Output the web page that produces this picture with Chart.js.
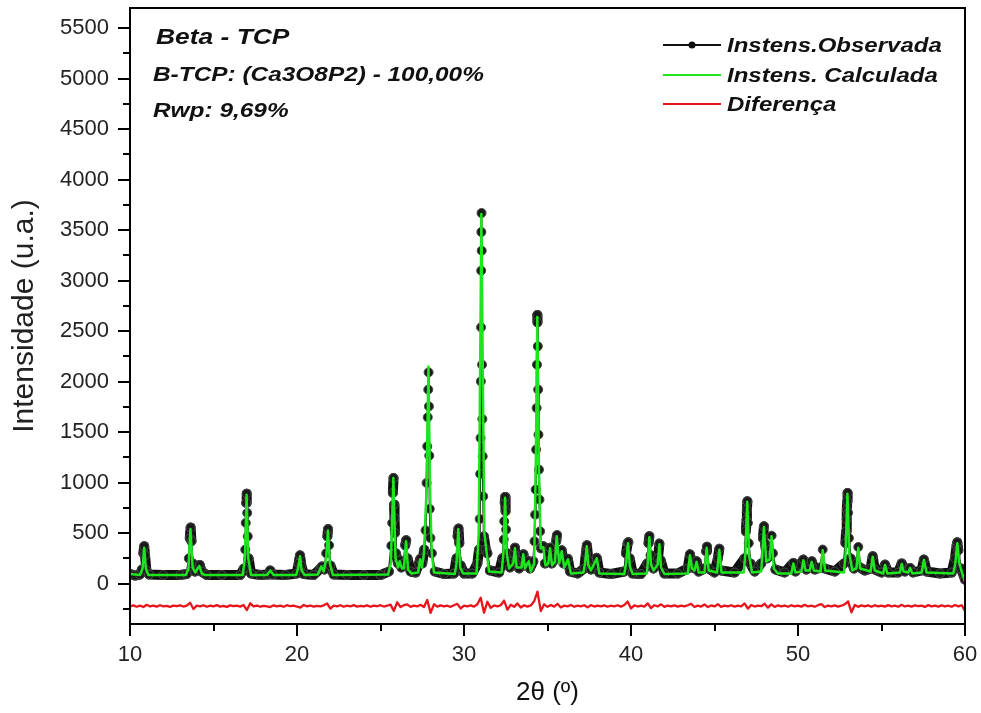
<!DOCTYPE html>
<html lang="pt">
<head>
<meta charset="UTF-8">
<title>Beta - TCP</title>
<script src="https://cdn.jsdelivr.net/npm/chart.js"></script>
<style>
  html, body { margin: 0; padding: 0; background: #fff; }
  #wrap { width: 981px; height: 713px; }
</style>
</head>
<body>
<div id="wrap"><canvas id="xrd" width="981" height="713"></canvas></div>
<script>
// axis ticks
const yTickValues = [0, 500, 1000, 1500, 2000, 2500, 3000, 3500, 4000, 4500, 5000, 5500];
const yMinorTicks = [-250, 250, 750, 1250, 1750, 2250, 2750, 3250, 3750, 4250, 4750, 5250];
const xTickValues = [10, 20, 30, 40, 50, 60];
const xMinorTicks = [15, 25, 35, 45, 55];

const seriesNames = ['Instens.Observada', 'Instens. Calculada', 'Diferença'];
const noteLines = ['Beta - TCP', 'B-TCP: (Ca3O8P2) - 100,00%', 'Rwp: 9,69%'];

// [2theta, counts]
const observed = [
  [10.0, 95], [10.3, 80], [10.6, 90],
  [10.72, 140], [10.80, 300], [10.85, 370], [10.90, 280], [10.98, 130], [11.15, 90],
  [12.0, 85], [13.0, 85], [13.40, 95],
  [13.52, 250], [13.58, 450], [13.63, 555], [13.68, 420], [13.75, 200], [13.90, 120],
  [14.10, 150], [14.18, 185], [14.28, 120], [14.6, 85],
  [15.5, 85], [16.6, 85], [16.82, 150],
  [16.90, 337], [16.93, 601], [16.96, 799], [16.99, 891], [17.02, 700], [17.05, 468], [17.10, 250], [17.25, 100],
  [17.8, 85], [18.25, 90], [18.40, 130], [18.55, 90], [19.3, 85], [19.98, 100],
  [20.10, 200], [20.18, 280], [20.26, 180], [20.40, 95],
  [21.0, 85], [21.40, 150], [21.50, 170], [21.65, 140], [21.75, 300], [21.82, 468], [21.86, 540], [21.92, 380], [22.00, 180], [22.2, 90],
  [23.0, 85], [24.0, 85], [25.0, 85], [25.50, 120],
  [25.65, 376], [25.70, 601], [25.74, 898], [25.78, 1045], [25.81, 782], [25.84, 650], [25.87, 502], [25.92, 300],
  [26.05, 200], [26.15, 230], [26.25, 160], [26.40, 200], [26.48, 380], [26.54, 430], [26.62, 250], [26.80, 120],
  [27.10, 110], [27.30, 200], [27.38, 245], [27.50, 200],
  [27.62, 337], [27.70, 528], [27.76, 997], [27.80, 1359], [27.83, 1647], [27.86, 1921], [27.88, 2092],
  [27.90, 1755], [27.92, 1267], [27.95, 740], [27.99, 452], [28.08, 300], [28.25, 120],
  [28.8, 95], [29.40, 100], [29.55, 250], [29.62, 468], [29.67, 545], [29.72, 400], [29.80, 180], [30.00, 100],
  [30.5, 100], [30.80, 200],
  [30.90, 337], [30.94, 640], [30.97, 1086], [30.99, 1442], [31.01, 2003], [31.02, 2538], [31.03, 3099], [31.04, 3482],
  [31.05, 3670], [31.06, 3297], [31.08, 2168], [31.10, 1630], [31.12, 1260], [31.15, 864], [31.19, 468],
  [31.30, 340], [31.40, 300], [31.55, 130],
  [32.10, 110], [32.30, 250], [32.38, 436], [32.41, 617], [32.44, 799], [32.46, 858], [32.49, 716], [32.52, 535], [32.58, 300],
  [32.75, 160], [32.90, 220], [33.00, 300], [33.05, 355], [33.12, 220], [33.30, 150], [33.50, 250], [33.56, 290],
  [33.65, 180], [33.85, 225], [33.95, 150], [34.15, 220],
  [34.22, 419], [34.26, 683], [34.29, 931], [34.32, 1327], [34.35, 1739], [34.37, 2168], [34.39, 2660], [34.40, 2587],
  [34.42, 2350], [34.44, 1921], [34.46, 1475], [34.49, 1129], [34.52, 832], [34.56, 518], [34.62, 350],
  [34.75, 370], [34.85, 200], [35.05, 220], [35.15, 355], [35.25, 200], [35.45, 250], [35.52, 420], [35.57, 480],
  [35.65, 250], [35.85, 330], [35.95, 200], [36.22, 245], [36.35, 120],
  [36.8, 100], [37.20, 150], [37.30, 300], [37.36, 380], [37.45, 230], [37.60, 140], [37.95, 255], [38.10, 110],
  [38.8, 95], [39.60, 120], [39.70, 300], [39.80, 400], [39.84, 410], [39.92, 250], [40.10, 100],
  [40.6, 95], [40.98, 200], [41.05, 400], [41.10, 470], [41.18, 280], [41.35, 150], [41.62, 250], [41.70, 396], [41.78, 230], [42.0, 100],
  [42.8, 100], [43.40, 150], [43.53, 290], [43.65, 170], [43.80, 150], [43.93, 222], [44.05, 120],
  [44.40, 150], [44.50, 320], [44.55, 365], [44.65, 150], [45.00, 110], [45.20, 250], [45.29, 345], [45.40, 130], [46.2, 110],
  [46.80, 250], [46.88, 518], [46.92, 634], [46.94, 733], [46.97, 815], [47.00, 600], [47.05, 400], [47.15, 200], [47.4, 120],
  [47.80, 200], [47.90, 450], [47.96, 567], [48.02, 400], [48.15, 250], [48.30, 280], [48.42, 475], [48.50, 300], [48.65, 140],
  [49.2, 110], [49.72, 205], [49.85, 120], [50.32, 238], [50.50, 140], [50.82, 221], [51.0, 140],
  [51.35, 160], [51.48, 337], [51.60, 150], [52.2, 120], [52.75, 200],
  [52.84, 403], [52.88, 518], [52.91, 634], [52.93, 733], [52.95, 815], [52.97, 898], [53.00, 700], [53.05, 450], [53.15, 250],
  [53.35, 150], [53.50, 200], [53.61, 363], [53.72, 160], [54.0, 130], [54.35, 150], [54.47, 271], [54.60, 140],
  [55.0, 110], [55.21, 188], [55.40, 110], [56.0, 110], [56.21, 200], [56.40, 120], [56.71, 155], [56.90, 110],
  [57.40, 130], [57.54, 238], [57.70, 120], [58.5, 100], [59.20, 110],
  [59.40, 250], [59.50, 380], [59.54, 409], [59.60, 330], [59.75, 150], [59.90, 90], [60.0, 40]
];

const calculated = [
  [10.0, 95], [10.60, 85], [10.75, 150], [10.85, 355], [10.95, 150], [11.10, 85],
  [13.35, 85], [13.50, 150], [13.62, 540], [13.75, 160], [13.90, 110], [14.15, 175], [14.30, 100], [14.50, 85],
  [16.75, 85], [16.88, 250], [16.98, 880], [17.08, 250], [17.25, 85],
  [18.20, 85], [18.40, 130], [18.60, 85],
  [19.95, 85], [20.08, 160], [20.18, 270], [20.28, 130], [20.45, 85],
  [21.25, 90], [21.45, 170], [21.60, 120], [21.75, 250], [21.85, 525], [21.97, 200], [22.15, 85],
  [25.45, 90], [25.62, 200], [25.77, 1045], [25.90, 250], [26.05, 160], [26.15, 220], [26.28, 150],
  [26.40, 150], [26.53, 420], [26.65, 140], [26.85, 100],
  [27.25, 110], [27.37, 240], [27.48, 160], [27.60, 300], [27.75, 900], [27.87, 2150], [27.97, 900], [28.07, 300], [28.20, 110],
  [29.45, 95], [29.55, 200], [29.66, 540], [29.77, 160], [29.95, 100],
  [30.75, 100], [30.88, 500], [30.97, 2200], [31.04, 3660], [31.12, 2200], [31.22, 500], [31.36, 300], [31.50, 120],
  [32.25, 110], [32.36, 300], [32.46, 850], [32.56, 300], [32.70, 150],
  [32.95, 200], [33.05, 350], [33.15, 160], [33.45, 160], [33.55, 290], [33.65, 150], [33.80, 200], [33.88, 220], [34.00, 120],
  [34.20, 200], [34.30, 1200], [34.39, 2640], [34.48, 1200], [34.60, 350], [34.75, 360], [34.88, 180],
  [35.05, 200], [35.15, 350], [35.27, 180], [35.45, 220], [35.55, 470], [35.70, 200], [35.85, 320], [36.00, 160],
  [36.23, 240], [36.40, 100],
  [37.15, 110], [37.25, 200], [37.35, 370], [37.45, 180], [37.60, 130], [37.95, 250], [38.10, 100],
  [39.60, 95], [39.72, 220], [39.82, 400], [39.93, 170], [40.10, 95],
  [40.95, 100], [41.00, 200], [41.10, 460], [41.20, 190], [41.35, 130], [41.60, 190], [41.70, 390], [41.80, 160], [42.00, 95],
  [43.40, 100], [43.53, 280], [43.65, 150], [43.80, 130], [43.93, 215], [44.05, 110],
  [44.40, 110], [44.53, 355], [44.65, 130], [45.15, 110], [45.29, 335], [45.42, 110],
  [46.75, 110], [46.85, 300], [46.96, 810], [47.07, 280], [47.25, 110],
  [47.80, 120], [47.96, 560], [48.10, 220], [48.30, 240], [48.42, 470], [48.55, 150], [48.80, 100],
  [49.60, 100], [49.72, 200], [49.85, 110], [50.20, 120], [50.32, 230], [50.45, 130],
  [50.70, 130], [50.82, 215], [50.95, 130], [51.35, 120], [51.48, 330], [51.62, 130],
  [52.75, 110], [52.85, 300], [52.96, 890], [53.07, 300], [53.25, 130], [53.50, 150], [53.61, 355], [53.72, 150],
  [54.35, 120], [54.47, 265], [54.60, 130], [55.10, 100], [55.21, 185], [55.35, 100],
  [56.10, 110], [56.21, 195], [56.32, 120], [56.60, 110], [56.71, 155], [56.85, 100],
  [57.40, 110], [57.54, 235], [57.70, 110],
  [59.30, 100], [59.42, 200], [59.54, 400], [59.66, 200], [59.85, 90], [60.0, 20]
];

// difference curve, one reading every 0.2 degrees from 10 to 60
const diffStart = 10;
const diffStep = 0.2;
const difference = [
  -225, -216, -229, -218, -232, -210, -226, -219, -228, -214,
  -225, -220, -230, -217, -224, -215, -227, -219, -190, -252,
  -218, -226, -214, -229, -219, -225, -213, -228, -220, -230,
  -216, -224, -218, -228, -212, -262, -195, -226, -217, -229,
  -220, -226, -232, -215, -225, -218, -229, -214, -224, -219,
  -227, -238, -212, -225, -217, -228, -220, -226, -215, -196,
  -248, -218, -226, -214, -229, -219, -225, -213, -228, -220,
  -226, -216, -229, -218, -224, -214, -227, -219, -208, -270,
  -185, -232, -214, -205, -230, -217, -226, -210, -232, -162,
  -290, -205, -228, -216, -226, -219, -230, -214, -200, -246,
  -218, -226, -215, -228, -205, -140, -288, -180, -240, -216,
  -226, -214, -168, -258, -210, -230, -196, -236, -214, -228,
  -216, -175, -80, -272, -205, -230, -212, -228, -200, -236,
  -218, -226, -212, -229, -219, -226, -214, -234, -213, -227,
  -218, -226, -216, -229, -219, -225, -214, -228, -212, -178,
  -246, -215, -227, -218, -228, -196, -242, -214, -226, -205,
  -230, -217, -226, -215, -228, -219, -225, -214, -200, -232,
  -218, -227, -206, -232, -216, -226, -204, -230, -217, -226,
  -214, -228, -218, -225, -196, -248, -212, -227, -218, -224,
  -200, -238, -206, -231, -215, -226, -217, -229, -214, -225,
  -218, -228, -210, -226, -219, -229, -214, -204, -232, -217,
  -226, -215, -228, -219, -205, -176, -284, -212, -230, -216,
  -226, -215, -229, -214, -226, -218, -228, -213, -225, -219,
  -229, -210, -226, -218, -228, -215, -224, -218, -231, -213,
  -226, -219, -228, -215, -225, -219, -229, -212, -226, -214,
  -270
];

const toXY = pts => pts.map(([x, y]) => ({ x, y }));
const diffXY = difference.map((y, i) => ({ x: +(diffStart + i * diffStep).toFixed(2), y }));

const FONT = '"Liberation Sans", Arial, sans-serif';
const GREEN = '#1ee61e';
const RED = '#e8141b';

// text in the original looks horizontally stretched, so draw it widened
function wideText(ctx, text, x, y, sx) {
  ctx.save();
  ctx.translate(x, y);
  ctx.scale(sx, 1);
  ctx.fillText(text, 0, 0);
  ctx.restore();
}

// frame, minor ticks, note text and legend
const extras = {
  id: 'extras',
  afterDatasetsDraw(chart) {
    const { ctx, chartArea: a, scales } = chart;
    ctx.save();
    ctx.strokeStyle = '#000';
    ctx.lineWidth = 2;
    ctx.strokeRect(a.left, a.top, a.right - a.left, a.bottom - a.top);

    ctx.beginPath();
    yMinorTicks.forEach(v => {
      const y = Math.round(scales.y.getPixelForValue(v));
      ctx.moveTo(a.left - 7, y);
      ctx.lineTo(a.left, y);
    });
    xMinorTicks.forEach(v => {
      const x = Math.round(scales.x.getPixelForValue(v));
      ctx.moveTo(x, a.bottom);
      ctx.lineTo(x, a.bottom + 7);
    });
    ctx.stroke();

    ctx.fillStyle = '#111';
    ctx.textBaseline = 'middle';
    ctx.textAlign = 'left';
    ctx.font = 'italic bold 22px ' + FONT;
    wideText(ctx, noteLines[0], 156, 38, 1.2);
    ctx.font = 'italic bold 20px ' + FONT;
    wideText(ctx, noteLines[1], 153, 75, 1.22);
    wideText(ctx, noteLines[2], 153, 111, 1.22);

    // legend
    const rows = [45, 75, 104];
    const colors = ['#111', GREEN, RED];
    ctx.font = 'italic bold 20px ' + FONT;
    rows.forEach((y, i) => {
      ctx.strokeStyle = colors[i];
      ctx.lineWidth = 2;
      ctx.beginPath();
      ctx.moveTo(663, y);
      ctx.lineTo(721, y);
      ctx.stroke();
      if (i === 0) {
        ctx.fillStyle = '#111';
        ctx.beginPath();
        ctx.arc(692, y, 3.5, 0, Math.PI * 2);
        ctx.fill();
      }
      ctx.fillStyle = '#111';
      wideText(ctx, seriesNames[i], 727, y + 1, 1.2);
    });
    ctx.restore();
  }
};

new Chart(document.getElementById('xrd'), {
  type: 'line',
  data: {
    datasets: [
      {
        label: seriesNames[0],
        data: toXY(observed),
        order: 3,
        borderColor: '#111',
        borderWidth: 10,
        borderJoinStyle: 'round',
        borderCapStyle: 'round',
        segment: {
          borderWidth: c => Math.abs(c.p1.parsed.y - c.p0.parsed.y) > 150 ? 2 : 10
        },
        pointRadius: 4.5,
        pointBackgroundColor: '#1a1a1a',
        pointBorderColor: '#4a4a4a',
        pointBorderWidth: 1,
        tension: 0
      },
      {
        label: seriesNames[1],
        data: toXY(calculated),
        order: 1,
        borderColor: GREEN,
        borderWidth: 2.5,
        borderJoinStyle: 'round',
        pointRadius: 0,
        tension: 0
      },
      {
        label: seriesNames[2],
        data: diffXY,
        order: 2,
        borderColor: RED,
        borderWidth: 2.3,
        borderJoinStyle: 'round',
        pointRadius: 0,
        tension: 0
      }
    ]
  },
  options: {
    responsive: false,
    devicePixelRatio: 1,
    animation: false,
    layout: { padding: { left: 0, top: 8, right: 16, bottom: 0 } },
    plugins: { legend: { display: false }, tooltip: { enabled: false } },
    scales: {
      x: {
        type: 'linear',
        min: 10,
        max: 60,
        afterFit: s => { s.height = 89; s.paddingLeft = 0; s.paddingRight = 0; },
        afterBuildTicks: s => { s.ticks = xTickValues.map(v => ({ value: v })); },
        border: { color: '#000', width: 2 },
        grid: { drawOnChartArea: false, tickLength: 12, color: '#000', lineWidth: 2 },
        ticks: { color: '#222', padding: 6, maxRotation: 0, callback: v => String(v), font: { family: FONT, size: 22 } },
        title: {
          display: true,
          text: '2θ (º)',
          color: '#111',
          padding: { top: 0, bottom: 5 },
          font: { family: FONT, size: 26 }
        }
      },
      y: {
        min: -400,
        max: 5700,
        afterFit: s => { s.width = 130; s.paddingTop = 0; s.paddingBottom = 0; },
        afterBuildTicks: s => { s.ticks = yTickValues.map(v => ({ value: v })); },
        border: { color: '#000', width: 2 },
        grid: { drawOnChartArea: false, tickLength: 12, color: '#000', lineWidth: 2 },
        ticks: { color: '#222', padding: 9, callback: v => String(v), font: { family: FONT, size: 22 } },
        title: {
          display: true,
          text: 'Intensidade (u.a.)',
          color: '#222',
          padding: { top: 7, bottom: 0 },
          font: { family: FONT, size: 30 }
        }
      }
    }
  },
  plugins: [extras]
});
</script>
</body>
</html>
